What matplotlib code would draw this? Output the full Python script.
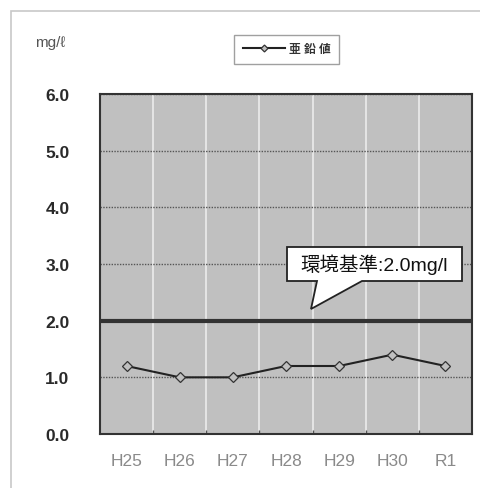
import matplotlib
matplotlib.use("Agg")
import matplotlib.pyplot as plt
from matplotlib.patches import Polygon, Rectangle
from matplotlib.ticker import FixedLocator

plt.rcParams['font.family'] = ['Liberation Sans', 'Noto Sans CJK JP', 'DejaVu Sans']

categories = ["H25", "H26", "H27", "H28", "H29", "H30", "R1"]
values = [1.2, 1.0, 1.0, 1.2, 1.2, 1.4, 1.2]
series_name = "亜 鉛 値"
standard_value = 2.0
standard_label = "環境基準:2.0mg/l"
yticks = [0.0, 1.0, 2.0, 3.0, 4.0, 5.0, 6.0]
unit_label = "mg/ℓ"

W, H = 480, 489
fig = plt.figure(figsize=(W / 100, H / 100), dpi=100)
fig.patch.set_facecolor("white")

# outer frame
fig.patches.append(Rectangle((11 / W, -0.1), 1.2, 1 - 12 / H + 0.1,
                             transform=fig.transFigure, fill=False,
                             edgecolor="#c8c8c8", lw=1.2))

ax = fig.add_axes([100 / W, (H - 435) / H, 372 / W, 340 / H])
ax.set_facecolor("#c0c0c0")

x = list(range(len(categories)))
ax.plot(x, values, color="#222222", lw=1.5, marker="D", markersize=5,
        markerfacecolor="#c0c0c0", markeredgecolor="#333333",
        markeredgewidth=0.9, label=series_name, zorder=4)

ax.axhline(standard_value, color="#333333", lw=3, zorder=3)

ax.set_xlim(-0.5, len(categories) - 0.5)
ax.set_ylim(yticks[0], yticks[-1])
ax.set_yticks(yticks)
ax.set_yticklabels([f"{v:.1f}" for v in yticks])
ax.set_xticks(x)
ax.set_xticklabels(categories)
ax.xaxis.set_minor_locator(FixedLocator([i + 0.5 for i in range(len(categories) - 1)]))

ax.grid(axis="y", which="major", color="#555555", ls=(0, (1, 1)), lw=1, zorder=1)
ax.grid(axis="x", which="minor", color="#e8e8e8", lw=1.3, zorder=1)
ax.set_axisbelow(True)

ax.tick_params(axis="y", length=0, pad=22, labelsize=12.5, labelcolor="#2a2a2a")
for lbl in ax.get_yticklabels():
    lbl.set_fontweight("semibold")
ax.tick_params(axis="x", which="major", length=0, pad=14, labelsize=12.5, labelcolor="#8a8a8a")
ax.tick_params(axis="x", which="minor", direction="in", length=3, width=1, color="#555555")

for s in ax.spines.values():
    s.set_color("#333333")
    s.set_linewidth(1.5)

# callout
bx0, bx1 = (287 - 100) / 372, (462 - 100) / 372
by0, by1 = (435 - 282) / 340, (435 - 248) / 340
t0, t1 = (317 - 100) / 372, (362 - 100) / 372
tipx, tipy = (311 - 100) / 372, (435 - 310) / 340
poly = Polygon([(bx0, by0), (bx0, by1), (bx1, by1), (bx1, by0), (t1, by0),
                (tipx, tipy), (t0, by0)], closed=True,
               transform=ax.transAxes, facecolor="white", edgecolor="#222222",
               lw=1.3, zorder=6)
ax.add_patch(poly)
ax.text((bx0 + bx1) / 2, (by0 + by1) / 2, standard_label, transform=ax.transAxes,
        ha="center", va="center", fontsize=14, color="#111111", zorder=7)

leg = ax.legend(loc="center", bbox_to_anchor=(286.5 / W, 1 - 50.5 / H),
                bbox_transform=fig.transFigure, fontsize=8.5, frameon=True,
                fancybox=False, edgecolor="#888888", handlelength=3.6,
                handletextpad=0.3, borderpad=0.75, borderaxespad=0,
                markerscale=0.7)
leg.get_frame().set_linewidth(1.0)
for t in leg.get_texts():
    t.set_fontweight("bold")
    t.set_color("#333333")

fig.text(35 / W, 1 - 43 / H, unit_label, ha="left", va="center",
         fontsize=11, color="#555555")

fig.savefig("out.png", dpi=100)
